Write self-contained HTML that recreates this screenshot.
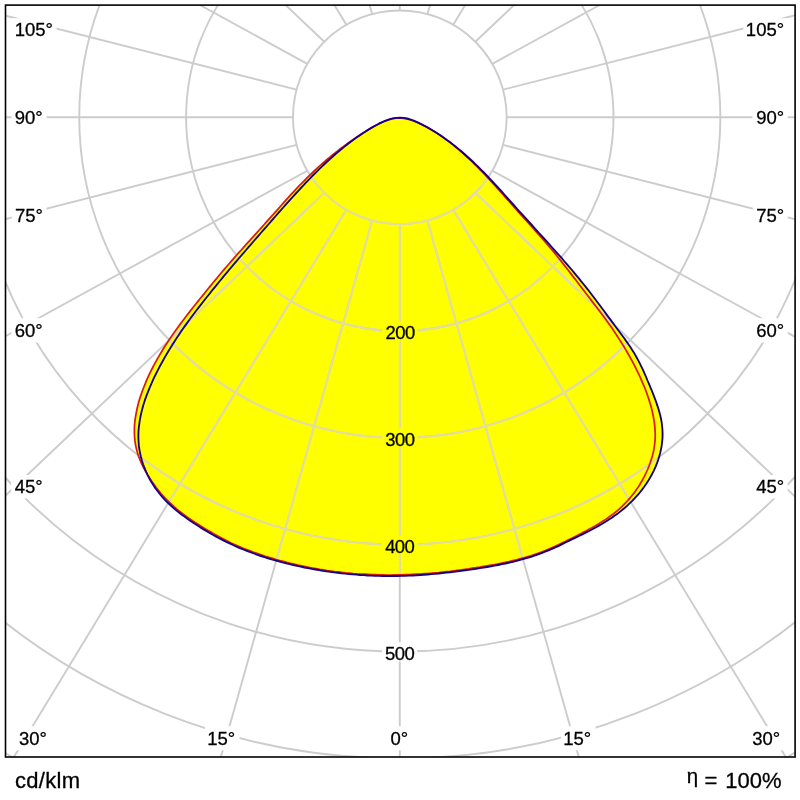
<!DOCTYPE html>
<html><head><meta charset="utf-8"><title>Polar</title>
<style>
html,body{margin:0;padding:0;background:#fff;}
body{width:800px;height:800px;overflow:hidden;font-family:"Liberation Sans",sans-serif;}
svg{display:block;position:absolute;left:0;top:0;}
text{font-family:"Liberation Sans",sans-serif;fill:#000;stroke:#000;stroke-width:0.3px;}
</style></head><body>
<svg width="800" height="800" viewBox="0 0 800 800">
<defs><filter id="gs" x="0" y="0" width="800" height="800" filterUnits="userSpaceOnUse" color-interpolation-filters="sRGB"><feColorMatrix type="saturate" values="0"/></filter><clipPath id="yl"><path d="M400.0,117.6 L396.4,117.8 L392.8,118.4 L389.2,119.4 L385.7,120.6 L382.2,122.1 L378.8,123.7 L375.4,125.5 L372.1,127.4 L368.8,129.4 L365.5,131.5 L362.4,133.5 L359.2,135.7 L356.2,137.8 L353.1,140.0 L350.1,142.3 L347.2,144.5 L344.2,146.9 L341.3,149.2 L338.5,151.6 L335.6,154.0 L332.8,156.5 L330.0,159.0 L327.3,161.5 L324.6,164.0 L321.8,166.6 L319.2,169.2 L316.5,171.8 L313.8,174.5 L311.2,177.2 L308.6,179.8 L306.0,182.5 L303.4,185.3 L300.9,188.0 L298.3,190.8 L295.8,193.5 L293.2,196.3 L290.7,199.1 L288.2,201.9 L285.7,204.7 L283.2,207.5 L280.7,210.4 L278.2,213.2 L275.7,216.0 L273.2,218.8 L270.8,221.7 L268.3,224.5 L265.8,227.3 L263.3,230.1 L260.8,233.0 L258.4,235.8 L255.9,238.6 L253.4,241.5 L251.0,244.3 L248.5,247.1 L246.1,250.0 L243.6,252.8 L241.2,255.6 L238.7,258.5 L236.3,261.4 L233.9,264.2 L231.4,267.1 L229.0,269.9 L226.6,272.8 L224.2,275.7 L221.8,278.6 L219.4,281.5 L217.1,284.4 L214.7,287.3 L212.3,290.2 L210.0,293.1 L207.7,296.0 L205.3,299.0 L203.0,301.9 L200.7,304.9 L198.4,307.9 L196.1,310.8 L193.9,313.8 L191.6,316.8 L189.4,319.8 L187.2,322.9 L185.0,325.9 L182.8,329.0 L180.7,332.1 L178.6,335.2 L176.5,338.3 L174.5,341.4 L172.5,344.6 L170.5,347.8 L168.5,351.0 L166.6,354.2 L164.7,357.4 L162.9,360.7 L161.1,364.0 L159.3,367.3 L157.6,370.7 L155.9,374.0 L154.2,377.4 L152.6,380.9 L151.1,384.3 L149.6,387.8 L148.2,391.3 L146.8,394.9 L145.5,398.4 L144.3,402.0 L143.2,405.6 L142.2,409.2 L141.3,412.8 L140.5,416.5 L139.8,420.1 L139.3,423.8 L138.8,427.5 L138.5,431.1 L138.4,434.8 L138.4,438.5 L138.6,442.2 L138.9,445.9 L139.4,449.6 L140.1,453.2 L140.9,456.9 L141.9,460.6 L143.1,464.2 L144.4,467.7 L145.9,471.3 L147.5,474.8 L149.2,478.2 L151.1,481.5 L153.1,484.8 L155.2,487.9 L157.5,491.0 L159.8,494.0 L162.2,496.8 L164.7,499.6 L167.3,502.3 L170.0,504.8 L172.7,507.3 L175.6,509.7 L178.4,512.1 L181.4,514.4 L184.4,516.6 L187.4,518.8 L190.5,520.9 L193.6,523.0 L196.7,525.0 L199.9,527.1 L203.1,529.1 L206.3,531.0 L209.6,532.9 L212.8,534.8 L216.1,536.6 L219.5,538.4 L222.8,540.1 L226.2,541.8 L229.6,543.4 L233.0,545.0 L236.4,546.6 L239.8,548.1 L243.3,549.5 L246.8,550.9 L250.3,552.2 L253.8,553.5 L257.3,554.8 L260.9,556.0 L264.4,557.2 L268.0,558.3 L271.6,559.4 L275.2,560.4 L278.8,561.4 L282.4,562.4 L286.0,563.3 L289.7,564.2 L293.3,565.1 L297.0,565.9 L300.7,566.7 L304.3,567.5 L308.0,568.2 L311.7,568.9 L315.4,569.5 L319.1,570.2 L322.8,570.8 L326.5,571.3 L330.2,571.9 L334.0,572.4 L337.7,572.8 L341.4,573.3 L345.2,573.7 L348.9,574.1 L352.6,574.4 L356.4,574.7 L360.1,575.0 L363.9,575.2 L367.6,575.5 L371.4,575.6 L375.1,575.8 L378.9,575.9 L382.6,576.0 L386.4,576.0 L390.1,576.0 L393.9,576.0 L397.6,576.0 L401.4,575.9 L405.1,575.8 L408.9,575.6 L412.6,575.5 L416.4,575.3 L420.1,575.0 L423.8,574.8 L427.6,574.5 L431.3,574.2 L435.1,573.9 L438.8,573.5 L442.5,573.1 L446.3,572.7 L450.0,572.3 L453.7,571.9 L457.4,571.4 L461.2,570.9 L464.9,570.4 L468.6,569.9 L472.3,569.4 L476.0,568.8 L479.8,568.2 L483.5,567.6 L487.2,567.0 L490.9,566.4 L494.6,565.7 L498.3,565.0 L501.9,564.2 L505.6,563.5 L509.3,562.7 L512.9,561.8 L516.6,560.9 L520.2,559.9 L523.8,558.9 L527.4,557.9 L531.0,556.8 L534.5,555.6 L538.1,554.4 L541.6,553.1 L545.1,551.7 L548.6,550.3 L552.0,548.9 L555.4,547.4 L558.8,545.8 L562.2,544.1 L565.5,542.5 L568.9,540.9 L572.3,539.2 L575.7,537.6 L579.0,536.0 L582.4,534.3 L585.8,532.6 L589.1,531.0 L592.4,529.2 L595.7,527.5 L599.0,525.6 L602.3,523.8 L605.5,521.8 L608.6,519.8 L611.8,517.8 L614.8,515.6 L617.9,513.4 L620.8,511.1 L623.7,508.7 L626.6,506.3 L629.3,503.7 L632.0,501.1 L634.6,498.4 L637.1,495.6 L639.6,492.8 L641.9,489.9 L644.2,486.8 L646.3,483.8 L648.4,480.6 L650.3,477.3 L652.1,474.0 L653.8,470.6 L655.4,467.2 L656.8,463.7 L658.1,460.1 L659.2,456.5 L660.2,452.9 L661.0,449.3 L661.7,445.6 L662.1,441.9 L662.5,438.2 L662.6,434.5 L662.5,430.7 L662.2,427.0 L661.8,423.3 L661.2,419.7 L660.4,416.0 L659.4,412.3 L658.4,408.7 L657.2,405.1 L656.0,401.5 L654.6,397.9 L653.3,394.4 L651.9,390.9 L650.4,387.4 L649.0,383.9 L647.5,380.5 L646.1,377.0 L644.6,373.6 L643.1,370.2 L641.5,366.8 L639.8,363.4 L638.1,360.1 L636.3,356.8 L634.5,353.6 L632.5,350.4 L630.5,347.3 L628.4,344.2 L626.2,341.1 L624.1,338.0 L621.8,335.0 L619.6,332.0 L617.3,329.0 L615.1,326.0 L612.8,322.9 L610.6,319.9 L608.3,316.9 L606.1,313.9 L603.9,310.8 L601.6,307.8 L599.4,304.8 L597.1,301.8 L594.9,298.8 L592.6,295.8 L590.3,292.8 L588.1,289.8 L585.7,286.9 L583.4,284.0 L581.0,281.1 L578.7,278.1 L576.3,275.3 L573.9,272.4 L571.5,269.5 L569.0,266.7 L566.6,263.8 L564.1,261.0 L561.7,258.2 L559.2,255.4 L556.7,252.6 L554.2,249.8 L551.7,247.0 L549.2,244.2 L546.7,241.4 L544.2,238.6 L541.7,235.8 L539.1,233.1 L536.6,230.3 L534.1,227.5 L531.6,224.7 L529.0,221.9 L526.5,219.2 L524.0,216.4 L521.5,213.6 L518.9,210.8 L516.4,208.0 L513.9,205.2 L511.4,202.4 L508.9,199.6 L506.4,196.8 L503.9,194.0 L501.4,191.2 L498.8,188.4 L496.3,185.6 L493.7,182.9 L491.2,180.1 L488.6,177.4 L486.0,174.7 L483.4,172.0 L480.7,169.4 L478.1,166.7 L475.4,164.1 L472.7,161.5 L470.0,159.0 L467.2,156.5 L464.4,154.0 L461.6,151.5 L458.7,149.1 L455.8,146.7 L452.9,144.4 L449.9,142.1 L446.9,139.9 L443.9,137.7 L440.8,135.6 L437.6,133.5 L434.4,131.5 L431.2,129.5 L427.9,127.6 L424.6,125.8 L421.2,124.1 L417.8,122.4 L414.3,120.9 L410.8,119.6 L407.2,118.5 L403.6,117.8 L400.0,117.6 Z"/><path d="M400.0,118.0 L396.4,118.1 L392.8,118.7 L389.3,119.6 L385.8,120.8 L382.3,122.2 L378.9,123.9 L375.5,125.7 L372.1,127.6 L368.8,129.5 L365.5,131.5 L362.3,133.5 L359.2,135.5 L356.0,137.6 L353.0,139.7 L349.9,141.8 L346.9,143.9 L343.9,146.1 L341.0,148.3 L338.0,150.6 L335.1,152.9 L332.2,155.2 L329.3,157.6 L326.5,160.0 L323.7,162.5 L320.9,164.9 L318.1,167.4 L315.3,170.0 L312.6,172.5 L309.9,175.1 L307.2,177.7 L304.6,180.4 L301.9,183.1 L299.3,185.7 L296.7,188.4 L294.2,191.2 L291.6,193.9 L289.1,196.7 L286.6,199.4 L284.1,202.2 L281.6,205.0 L279.1,207.8 L276.7,210.6 L274.2,213.4 L271.7,216.2 L269.2,218.9 L266.7,221.7 L264.2,224.5 L261.7,227.3 L259.2,230.0 L256.7,232.8 L254.2,235.6 L251.7,238.4 L249.2,241.1 L246.7,243.9 L244.2,246.7 L241.7,249.5 L239.2,252.2 L236.7,255.0 L234.2,257.8 L231.8,260.6 L229.3,263.5 L226.9,266.3 L224.4,269.1 L222.0,272.0 L219.6,274.8 L217.2,277.7 L214.8,280.6 L212.4,283.5 L210.1,286.4 L207.7,289.3 L205.3,292.2 L203.0,295.1 L200.6,298.0 L198.3,300.9 L196.0,303.8 L193.6,306.7 L191.3,309.6 L189.0,312.6 L186.7,315.5 L184.5,318.5 L182.2,321.5 L180.0,324.4 L177.8,327.4 L175.6,330.5 L173.5,333.5 L171.4,336.6 L169.3,339.6 L167.2,342.7 L165.2,345.8 L163.2,349.0 L161.3,352.2 L159.4,355.4 L157.5,358.6 L155.7,361.9 L153.9,365.2 L152.2,368.5 L150.5,371.8 L148.9,375.2 L147.3,378.7 L145.8,382.2 L144.4,385.7 L143.0,389.2 L141.7,392.8 L140.5,396.4 L139.3,400.0 L138.3,403.6 L137.4,407.3 L136.6,411.0 L135.9,414.7 L135.3,418.3 L134.8,422.0 L134.5,425.7 L134.4,429.4 L134.4,433.1 L134.6,436.7 L134.9,440.4 L135.4,444.0 L136.1,447.6 L137.0,451.1 L138.0,454.7 L139.3,458.2 L140.7,461.7 L142.3,465.1 L144.0,468.5 L145.9,471.8 L147.8,475.1 L149.8,478.3 L151.9,481.5 L154.1,484.6 L156.3,487.7 L158.6,490.6 L160.9,493.5 L163.4,496.3 L166.0,499.0 L168.6,501.6 L171.3,504.2 L174.0,506.7 L176.8,509.1 L179.7,511.4 L182.6,513.7 L185.6,515.9 L188.7,518.1 L191.7,520.2 L194.8,522.3 L198.0,524.3 L201.1,526.3 L204.3,528.3 L207.6,530.2 L210.8,532.1 L214.1,534.0 L217.3,535.8 L220.6,537.6 L223.9,539.3 L227.3,541.0 L230.6,542.7 L234.0,544.3 L237.4,545.8 L240.9,547.3 L244.3,548.7 L247.8,550.1 L251.2,551.4 L254.7,552.7 L258.3,553.9 L261.8,555.1 L265.3,556.3 L268.9,557.4 L272.5,558.4 L276.1,559.5 L279.7,560.5 L283.3,561.4 L286.9,562.4 L290.5,563.3 L294.2,564.1 L297.8,565.0 L301.5,565.8 L305.1,566.5 L308.8,567.3 L312.5,568.0 L316.1,568.6 L319.8,569.3 L323.5,569.9 L327.2,570.5 L330.9,571.0 L334.6,571.5 L338.3,571.9 L342.0,572.4 L345.8,572.8 L349.5,573.1 L353.2,573.5 L356.9,573.8 L360.7,574.0 L364.4,574.2 L368.1,574.4 L371.9,574.6 L375.6,574.7 L379.3,574.8 L383.1,574.9 L386.8,575.0 L390.5,575.0 L394.3,574.9 L398.0,574.9 L401.7,574.8 L405.5,574.7 L409.2,574.6 L412.9,574.4 L416.7,574.2 L420.4,574.0 L424.1,573.7 L427.8,573.5 L431.6,573.2 L435.3,572.8 L439.0,572.5 L442.7,572.1 L446.4,571.7 L450.1,571.3 L453.9,570.8 L457.6,570.3 L461.3,569.9 L465.0,569.3 L468.7,568.8 L472.4,568.2 L476.1,567.7 L479.8,567.1 L483.5,566.4 L487.1,565.8 L490.8,565.1 L494.5,564.5 L498.2,563.8 L501.9,563.0 L505.5,562.3 L509.2,561.5 L512.8,560.6 L516.5,559.8 L520.1,558.8 L523.7,557.9 L527.3,556.8 L530.8,555.8 L534.4,554.6 L537.9,553.4 L541.4,552.1 L544.9,550.7 L548.3,549.3 L551.7,547.8 L555.1,546.3 L558.5,544.7 L561.8,543.1 L565.2,541.5 L568.5,539.8 L571.9,538.2 L575.2,536.5 L578.6,534.8 L581.9,533.1 L585.2,531.4 L588.5,529.6 L591.8,527.8 L595.1,525.9 L598.3,524.0 L601.5,522.1 L604.6,520.1 L607.7,518.0 L610.7,515.8 L613.7,513.6 L616.6,511.3 L619.4,508.9 L622.1,506.4 L624.8,503.7 L627.3,501.0 L629.8,498.2 L632.2,495.3 L634.5,492.4 L636.7,489.3 L638.8,486.2 L640.7,483.0 L642.6,479.7 L644.4,476.4 L646.0,473.0 L647.6,469.5 L649.0,466.0 L650.3,462.5 L651.4,459.0 L652.5,455.4 L653.4,451.8 L654.1,448.1 L654.6,444.5 L655.0,440.8 L655.2,437.1 L655.2,433.4 L655.0,429.7 L654.7,425.9 L654.3,422.2 L653.7,418.5 L653.0,414.9 L652.2,411.2 L651.3,407.6 L650.3,404.0 L649.2,400.4 L648.0,396.8 L646.8,393.3 L645.5,389.8 L644.1,386.3 L642.6,382.9 L641.1,379.4 L639.6,376.0 L638.0,372.6 L636.4,369.3 L634.7,365.9 L633.0,362.6 L631.2,359.3 L629.4,356.1 L627.5,352.8 L625.7,349.6 L623.8,346.4 L621.8,343.2 L619.8,340.1 L617.8,336.9 L615.7,333.8 L613.7,330.7 L611.6,327.6 L609.4,324.6 L607.2,321.5 L605.1,318.5 L602.8,315.5 L600.6,312.5 L598.4,309.5 L596.1,306.5 L593.8,303.6 L591.5,300.6 L589.3,297.6 L587.0,294.7 L584.7,291.7 L582.4,288.8 L580.1,285.8 L577.9,282.8 L575.6,279.8 L573.3,276.9 L571.0,273.9 L568.8,271.0 L566.5,268.0 L564.2,265.1 L561.9,262.1 L559.6,259.2 L557.2,256.3 L554.9,253.4 L552.5,250.5 L550.1,247.7 L547.7,244.8 L545.2,242.0 L542.8,239.2 L540.3,236.4 L537.9,233.6 L535.4,230.8 L532.9,228.0 L530.4,225.2 L527.9,222.4 L525.4,219.7 L522.9,216.9 L520.4,214.1 L517.9,211.3 L515.4,208.5 L512.9,205.7 L510.5,202.9 L508.0,200.1 L505.5,197.3 L503.0,194.5 L500.5,191.7 L498.0,188.9 L495.5,186.1 L493.0,183.3 L490.5,180.6 L487.9,177.8 L485.4,175.1 L482.8,172.4 L480.2,169.8 L477.6,167.1 L474.9,164.5 L472.3,161.9 L469.6,159.3 L466.8,156.8 L464.1,154.3 L461.3,151.8 L458.5,149.4 L455.6,147.0 L452.7,144.6 L449.7,142.3 L446.7,140.1 L443.7,137.9 L440.6,135.7 L437.5,133.6 L434.3,131.6 L431.1,129.7 L427.8,127.8 L424.5,126.0 L421.1,124.3 L417.7,122.7 L414.2,121.2 L410.7,120.0 L407.1,119.0 L403.5,118.3 L400.0,118.0 Z"/></clipPath><clipPath id="fr"><rect x="5.5" y="5.1" width="789.6" height="751.9"/></clipPath></defs>
<rect width="800" height="800" fill="#fff"/>
<g clip-path="url(#fr)">
<path d="M400.0,117.6 L396.4,117.8 L392.8,118.4 L389.2,119.4 L385.7,120.6 L382.2,122.1 L378.8,123.7 L375.4,125.5 L372.1,127.4 L368.8,129.4 L365.5,131.5 L362.4,133.5 L359.2,135.7 L356.2,137.8 L353.1,140.0 L350.1,142.3 L347.2,144.5 L344.2,146.9 L341.3,149.2 L338.5,151.6 L335.6,154.0 L332.8,156.5 L330.0,159.0 L327.3,161.5 L324.6,164.0 L321.8,166.6 L319.2,169.2 L316.5,171.8 L313.8,174.5 L311.2,177.2 L308.6,179.8 L306.0,182.5 L303.4,185.3 L300.9,188.0 L298.3,190.8 L295.8,193.5 L293.2,196.3 L290.7,199.1 L288.2,201.9 L285.7,204.7 L283.2,207.5 L280.7,210.4 L278.2,213.2 L275.7,216.0 L273.2,218.8 L270.8,221.7 L268.3,224.5 L265.8,227.3 L263.3,230.1 L260.8,233.0 L258.4,235.8 L255.9,238.6 L253.4,241.5 L251.0,244.3 L248.5,247.1 L246.1,250.0 L243.6,252.8 L241.2,255.6 L238.7,258.5 L236.3,261.4 L233.9,264.2 L231.4,267.1 L229.0,269.9 L226.6,272.8 L224.2,275.7 L221.8,278.6 L219.4,281.5 L217.1,284.4 L214.7,287.3 L212.3,290.2 L210.0,293.1 L207.7,296.0 L205.3,299.0 L203.0,301.9 L200.7,304.9 L198.4,307.9 L196.1,310.8 L193.9,313.8 L191.6,316.8 L189.4,319.8 L187.2,322.9 L185.0,325.9 L182.8,329.0 L180.7,332.1 L178.6,335.2 L176.5,338.3 L174.5,341.4 L172.5,344.6 L170.5,347.8 L168.5,351.0 L166.6,354.2 L164.7,357.4 L162.9,360.7 L161.1,364.0 L159.3,367.3 L157.6,370.7 L155.9,374.0 L154.2,377.4 L152.6,380.9 L151.1,384.3 L149.6,387.8 L148.2,391.3 L146.8,394.9 L145.5,398.4 L144.3,402.0 L143.2,405.6 L142.2,409.2 L141.3,412.8 L140.5,416.5 L139.8,420.1 L139.3,423.8 L138.8,427.5 L138.5,431.1 L138.4,434.8 L138.4,438.5 L138.6,442.2 L138.9,445.9 L139.4,449.6 L140.1,453.2 L140.9,456.9 L141.9,460.6 L143.1,464.2 L144.4,467.7 L145.9,471.3 L147.5,474.8 L149.2,478.2 L151.1,481.5 L153.1,484.8 L155.2,487.9 L157.5,491.0 L159.8,494.0 L162.2,496.8 L164.7,499.6 L167.3,502.3 L170.0,504.8 L172.7,507.3 L175.6,509.7 L178.4,512.1 L181.4,514.4 L184.4,516.6 L187.4,518.8 L190.5,520.9 L193.6,523.0 L196.7,525.0 L199.9,527.1 L203.1,529.1 L206.3,531.0 L209.6,532.9 L212.8,534.8 L216.1,536.6 L219.5,538.4 L222.8,540.1 L226.2,541.8 L229.6,543.4 L233.0,545.0 L236.4,546.6 L239.8,548.1 L243.3,549.5 L246.8,550.9 L250.3,552.2 L253.8,553.5 L257.3,554.8 L260.9,556.0 L264.4,557.2 L268.0,558.3 L271.6,559.4 L275.2,560.4 L278.8,561.4 L282.4,562.4 L286.0,563.3 L289.7,564.2 L293.3,565.1 L297.0,565.9 L300.7,566.7 L304.3,567.5 L308.0,568.2 L311.7,568.9 L315.4,569.5 L319.1,570.2 L322.8,570.8 L326.5,571.3 L330.2,571.9 L334.0,572.4 L337.7,572.8 L341.4,573.3 L345.2,573.7 L348.9,574.1 L352.6,574.4 L356.4,574.7 L360.1,575.0 L363.9,575.2 L367.6,575.5 L371.4,575.6 L375.1,575.8 L378.9,575.9 L382.6,576.0 L386.4,576.0 L390.1,576.0 L393.9,576.0 L397.6,576.0 L401.4,575.9 L405.1,575.8 L408.9,575.6 L412.6,575.5 L416.4,575.3 L420.1,575.0 L423.8,574.8 L427.6,574.5 L431.3,574.2 L435.1,573.9 L438.8,573.5 L442.5,573.1 L446.3,572.7 L450.0,572.3 L453.7,571.9 L457.4,571.4 L461.2,570.9 L464.9,570.4 L468.6,569.9 L472.3,569.4 L476.0,568.8 L479.8,568.2 L483.5,567.6 L487.2,567.0 L490.9,566.4 L494.6,565.7 L498.3,565.0 L501.9,564.2 L505.6,563.5 L509.3,562.7 L512.9,561.8 L516.6,560.9 L520.2,559.9 L523.8,558.9 L527.4,557.9 L531.0,556.8 L534.5,555.6 L538.1,554.4 L541.6,553.1 L545.1,551.7 L548.6,550.3 L552.0,548.9 L555.4,547.4 L558.8,545.8 L562.2,544.1 L565.5,542.5 L568.9,540.9 L572.3,539.2 L575.7,537.6 L579.0,536.0 L582.4,534.3 L585.8,532.6 L589.1,531.0 L592.4,529.2 L595.7,527.5 L599.0,525.6 L602.3,523.8 L605.5,521.8 L608.6,519.8 L611.8,517.8 L614.8,515.6 L617.9,513.4 L620.8,511.1 L623.7,508.7 L626.6,506.3 L629.3,503.7 L632.0,501.1 L634.6,498.4 L637.1,495.6 L639.6,492.8 L641.9,489.9 L644.2,486.8 L646.3,483.8 L648.4,480.6 L650.3,477.3 L652.1,474.0 L653.8,470.6 L655.4,467.2 L656.8,463.7 L658.1,460.1 L659.2,456.5 L660.2,452.9 L661.0,449.3 L661.7,445.6 L662.1,441.9 L662.5,438.2 L662.6,434.5 L662.5,430.7 L662.2,427.0 L661.8,423.3 L661.2,419.7 L660.4,416.0 L659.4,412.3 L658.4,408.7 L657.2,405.1 L656.0,401.5 L654.6,397.9 L653.3,394.4 L651.9,390.9 L650.4,387.4 L649.0,383.9 L647.5,380.5 L646.1,377.0 L644.6,373.6 L643.1,370.2 L641.5,366.8 L639.8,363.4 L638.1,360.1 L636.3,356.8 L634.5,353.6 L632.5,350.4 L630.5,347.3 L628.4,344.2 L626.2,341.1 L624.1,338.0 L621.8,335.0 L619.6,332.0 L617.3,329.0 L615.1,326.0 L612.8,322.9 L610.6,319.9 L608.3,316.9 L606.1,313.9 L603.9,310.8 L601.6,307.8 L599.4,304.8 L597.1,301.8 L594.9,298.8 L592.6,295.8 L590.3,292.8 L588.1,289.8 L585.7,286.9 L583.4,284.0 L581.0,281.1 L578.7,278.1 L576.3,275.3 L573.9,272.4 L571.5,269.5 L569.0,266.7 L566.6,263.8 L564.1,261.0 L561.7,258.2 L559.2,255.4 L556.7,252.6 L554.2,249.8 L551.7,247.0 L549.2,244.2 L546.7,241.4 L544.2,238.6 L541.7,235.8 L539.1,233.1 L536.6,230.3 L534.1,227.5 L531.6,224.7 L529.0,221.9 L526.5,219.2 L524.0,216.4 L521.5,213.6 L518.9,210.8 L516.4,208.0 L513.9,205.2 L511.4,202.4 L508.9,199.6 L506.4,196.8 L503.9,194.0 L501.4,191.2 L498.8,188.4 L496.3,185.6 L493.7,182.9 L491.2,180.1 L488.6,177.4 L486.0,174.7 L483.4,172.0 L480.7,169.4 L478.1,166.7 L475.4,164.1 L472.7,161.5 L470.0,159.0 L467.2,156.5 L464.4,154.0 L461.6,151.5 L458.7,149.1 L455.8,146.7 L452.9,144.4 L449.9,142.1 L446.9,139.9 L443.9,137.7 L440.8,135.6 L437.6,133.5 L434.4,131.5 L431.2,129.5 L427.9,127.6 L424.6,125.8 L421.2,124.1 L417.8,122.4 L414.3,120.9 L410.8,119.6 L407.2,118.5 L403.6,117.8 L400.0,117.6 Z" fill="#ffff00"/>
<path d="M400.0,118.0 L396.4,118.1 L392.8,118.7 L389.3,119.6 L385.8,120.8 L382.3,122.2 L378.9,123.9 L375.5,125.7 L372.1,127.6 L368.8,129.5 L365.5,131.5 L362.3,133.5 L359.2,135.5 L356.0,137.6 L353.0,139.7 L349.9,141.8 L346.9,143.9 L343.9,146.1 L341.0,148.3 L338.0,150.6 L335.1,152.9 L332.2,155.2 L329.3,157.6 L326.5,160.0 L323.7,162.5 L320.9,164.9 L318.1,167.4 L315.3,170.0 L312.6,172.5 L309.9,175.1 L307.2,177.7 L304.6,180.4 L301.9,183.1 L299.3,185.7 L296.7,188.4 L294.2,191.2 L291.6,193.9 L289.1,196.7 L286.6,199.4 L284.1,202.2 L281.6,205.0 L279.1,207.8 L276.7,210.6 L274.2,213.4 L271.7,216.2 L269.2,218.9 L266.7,221.7 L264.2,224.5 L261.7,227.3 L259.2,230.0 L256.7,232.8 L254.2,235.6 L251.7,238.4 L249.2,241.1 L246.7,243.9 L244.2,246.7 L241.7,249.5 L239.2,252.2 L236.7,255.0 L234.2,257.8 L231.8,260.6 L229.3,263.5 L226.9,266.3 L224.4,269.1 L222.0,272.0 L219.6,274.8 L217.2,277.7 L214.8,280.6 L212.4,283.5 L210.1,286.4 L207.7,289.3 L205.3,292.2 L203.0,295.1 L200.6,298.0 L198.3,300.9 L196.0,303.8 L193.6,306.7 L191.3,309.6 L189.0,312.6 L186.7,315.5 L184.5,318.5 L182.2,321.5 L180.0,324.4 L177.8,327.4 L175.6,330.5 L173.5,333.5 L171.4,336.6 L169.3,339.6 L167.2,342.7 L165.2,345.8 L163.2,349.0 L161.3,352.2 L159.4,355.4 L157.5,358.6 L155.7,361.9 L153.9,365.2 L152.2,368.5 L150.5,371.8 L148.9,375.2 L147.3,378.7 L145.8,382.2 L144.4,385.7 L143.0,389.2 L141.7,392.8 L140.5,396.4 L139.3,400.0 L138.3,403.6 L137.4,407.3 L136.6,411.0 L135.9,414.7 L135.3,418.3 L134.8,422.0 L134.5,425.7 L134.4,429.4 L134.4,433.1 L134.6,436.7 L134.9,440.4 L135.4,444.0 L136.1,447.6 L137.0,451.1 L138.0,454.7 L139.3,458.2 L140.7,461.7 L142.3,465.1 L144.0,468.5 L145.9,471.8 L147.8,475.1 L149.8,478.3 L151.9,481.5 L154.1,484.6 L156.3,487.7 L158.6,490.6 L160.9,493.5 L163.4,496.3 L166.0,499.0 L168.6,501.6 L171.3,504.2 L174.0,506.7 L176.8,509.1 L179.7,511.4 L182.6,513.7 L185.6,515.9 L188.7,518.1 L191.7,520.2 L194.8,522.3 L198.0,524.3 L201.1,526.3 L204.3,528.3 L207.6,530.2 L210.8,532.1 L214.1,534.0 L217.3,535.8 L220.6,537.6 L223.9,539.3 L227.3,541.0 L230.6,542.7 L234.0,544.3 L237.4,545.8 L240.9,547.3 L244.3,548.7 L247.8,550.1 L251.2,551.4 L254.7,552.7 L258.3,553.9 L261.8,555.1 L265.3,556.3 L268.9,557.4 L272.5,558.4 L276.1,559.5 L279.7,560.5 L283.3,561.4 L286.9,562.4 L290.5,563.3 L294.2,564.1 L297.8,565.0 L301.5,565.8 L305.1,566.5 L308.8,567.3 L312.5,568.0 L316.1,568.6 L319.8,569.3 L323.5,569.9 L327.2,570.5 L330.9,571.0 L334.6,571.5 L338.3,571.9 L342.0,572.4 L345.8,572.8 L349.5,573.1 L353.2,573.5 L356.9,573.8 L360.7,574.0 L364.4,574.2 L368.1,574.4 L371.9,574.6 L375.6,574.7 L379.3,574.8 L383.1,574.9 L386.8,575.0 L390.5,575.0 L394.3,574.9 L398.0,574.9 L401.7,574.8 L405.5,574.7 L409.2,574.6 L412.9,574.4 L416.7,574.2 L420.4,574.0 L424.1,573.7 L427.8,573.5 L431.6,573.2 L435.3,572.8 L439.0,572.5 L442.7,572.1 L446.4,571.7 L450.1,571.3 L453.9,570.8 L457.6,570.3 L461.3,569.9 L465.0,569.3 L468.7,568.8 L472.4,568.2 L476.1,567.7 L479.8,567.1 L483.5,566.4 L487.1,565.8 L490.8,565.1 L494.5,564.5 L498.2,563.8 L501.9,563.0 L505.5,562.3 L509.2,561.5 L512.8,560.6 L516.5,559.8 L520.1,558.8 L523.7,557.9 L527.3,556.8 L530.8,555.8 L534.4,554.6 L537.9,553.4 L541.4,552.1 L544.9,550.7 L548.3,549.3 L551.7,547.8 L555.1,546.3 L558.5,544.7 L561.8,543.1 L565.2,541.5 L568.5,539.8 L571.9,538.2 L575.2,536.5 L578.6,534.8 L581.9,533.1 L585.2,531.4 L588.5,529.6 L591.8,527.8 L595.1,525.9 L598.3,524.0 L601.5,522.1 L604.6,520.1 L607.7,518.0 L610.7,515.8 L613.7,513.6 L616.6,511.3 L619.4,508.9 L622.1,506.4 L624.8,503.7 L627.3,501.0 L629.8,498.2 L632.2,495.3 L634.5,492.4 L636.7,489.3 L638.8,486.2 L640.7,483.0 L642.6,479.7 L644.4,476.4 L646.0,473.0 L647.6,469.5 L649.0,466.0 L650.3,462.5 L651.4,459.0 L652.5,455.4 L653.4,451.8 L654.1,448.1 L654.6,444.5 L655.0,440.8 L655.2,437.1 L655.2,433.4 L655.0,429.7 L654.7,425.9 L654.3,422.2 L653.7,418.5 L653.0,414.9 L652.2,411.2 L651.3,407.6 L650.3,404.0 L649.2,400.4 L648.0,396.8 L646.8,393.3 L645.5,389.8 L644.1,386.3 L642.6,382.9 L641.1,379.4 L639.6,376.0 L638.0,372.6 L636.4,369.3 L634.7,365.9 L633.0,362.6 L631.2,359.3 L629.4,356.1 L627.5,352.8 L625.7,349.6 L623.8,346.4 L621.8,343.2 L619.8,340.1 L617.8,336.9 L615.7,333.8 L613.7,330.7 L611.6,327.6 L609.4,324.6 L607.2,321.5 L605.1,318.5 L602.8,315.5 L600.6,312.5 L598.4,309.5 L596.1,306.5 L593.8,303.6 L591.5,300.6 L589.3,297.6 L587.0,294.7 L584.7,291.7 L582.4,288.8 L580.1,285.8 L577.9,282.8 L575.6,279.8 L573.3,276.9 L571.0,273.9 L568.8,271.0 L566.5,268.0 L564.2,265.1 L561.9,262.1 L559.6,259.2 L557.2,256.3 L554.9,253.4 L552.5,250.5 L550.1,247.7 L547.7,244.8 L545.2,242.0 L542.8,239.2 L540.3,236.4 L537.9,233.6 L535.4,230.8 L532.9,228.0 L530.4,225.2 L527.9,222.4 L525.4,219.7 L522.9,216.9 L520.4,214.1 L517.9,211.3 L515.4,208.5 L512.9,205.7 L510.5,202.9 L508.0,200.1 L505.5,197.3 L503.0,194.5 L500.5,191.7 L498.0,188.9 L495.5,186.1 L493.0,183.3 L490.5,180.6 L487.9,177.8 L485.4,175.1 L482.8,172.4 L480.2,169.8 L477.6,167.1 L474.9,164.5 L472.3,161.9 L469.6,159.3 L466.8,156.8 L464.1,154.3 L461.3,151.8 L458.5,149.4 L455.6,147.0 L452.7,144.6 L449.7,142.3 L446.7,140.1 L443.7,137.9 L440.6,135.7 L437.5,133.6 L434.3,131.6 L431.1,129.7 L427.8,127.8 L424.5,126.0 L421.1,124.3 L417.7,122.7 L414.2,121.2 L410.7,120.0 L407.1,119.0 L403.5,118.3 L400.0,118.0 Z" fill="#ffff00"/>
<g fill="none" stroke="#cccccc" stroke-width="1.9"><circle cx="399.8" cy="117.3" r="106.85"/><circle cx="399.8" cy="117.3" r="213.70"/><circle cx="399.8" cy="117.3" r="320.55"/><circle cx="399.8" cy="117.3" r="427.40"/><circle cx="399.8" cy="117.3" r="534.25"/><circle cx="399.8" cy="117.3" r="641.10"/><circle cx="399.8" cy="117.3" r="747.95"/><line x1="399.80" y1="224.15" x2="399.80" y2="1324.15"/><line x1="427.45" y1="220.51" x2="726.03" y2="1279.21"/><line x1="453.23" y1="209.83" x2="1024.46" y2="1149.88"/><line x1="475.35" y1="192.85" x2="1272.81" y2="950.53"/><line x1="492.33" y1="170.73" x2="1456.76" y2="699.76"/><line x1="503.01" y1="144.95" x2="1569.01" y2="416.34"/><line x1="506.65" y1="117.30" x2="1606.65" y2="117.30"/><line x1="503.01" y1="89.65" x2="1569.01" y2="-181.74"/><line x1="492.33" y1="63.88" x2="1456.76" y2="-465.16"/><line x1="475.35" y1="41.75" x2="1272.81" y2="-715.93"/><line x1="453.23" y1="24.77" x2="1024.46" y2="-915.28"/><line x1="427.45" y1="14.09" x2="726.03" y2="-1044.61"/><line x1="399.80" y1="10.45" x2="399.80" y2="-1089.55"/><line x1="372.15" y1="14.09" x2="73.57" y2="-1044.61"/><line x1="346.38" y1="24.77" x2="-224.86" y2="-915.28"/><line x1="324.25" y1="41.75" x2="-473.21" y2="-715.93"/><line x1="307.27" y1="63.87" x2="-657.16" y2="-465.16"/><line x1="296.59" y1="89.65" x2="-769.41" y2="-181.74"/><line x1="292.95" y1="117.30" x2="-807.05" y2="117.30"/><line x1="296.59" y1="144.95" x2="-769.41" y2="416.34"/><line x1="307.27" y1="170.73" x2="-657.16" y2="699.76"/><line x1="324.25" y1="192.85" x2="-473.21" y2="950.53"/><line x1="346.37" y1="209.83" x2="-224.86" y2="1149.88"/><line x1="372.15" y1="220.51" x2="73.57" y2="1279.21"/></g>
<g fill="none" stroke="#e4df9c" stroke-width="1.7" clip-path="url(#yl)"><circle cx="399.8" cy="117.3" r="106.85"/><circle cx="399.8" cy="117.3" r="213.70"/><circle cx="399.8" cy="117.3" r="320.55"/><circle cx="399.8" cy="117.3" r="427.40"/><circle cx="399.8" cy="117.3" r="534.25"/><circle cx="399.8" cy="117.3" r="641.10"/><circle cx="399.8" cy="117.3" r="747.95"/><line x1="399.80" y1="224.15" x2="399.80" y2="1324.15"/><line x1="427.45" y1="220.51" x2="726.03" y2="1279.21"/><line x1="453.23" y1="209.83" x2="1024.46" y2="1149.88"/><line x1="475.35" y1="192.85" x2="1272.81" y2="950.53"/><line x1="492.33" y1="170.73" x2="1456.76" y2="699.76"/><line x1="503.01" y1="144.95" x2="1569.01" y2="416.34"/><line x1="506.65" y1="117.30" x2="1606.65" y2="117.30"/><line x1="503.01" y1="89.65" x2="1569.01" y2="-181.74"/><line x1="492.33" y1="63.88" x2="1456.76" y2="-465.16"/><line x1="475.35" y1="41.75" x2="1272.81" y2="-715.93"/><line x1="453.23" y1="24.77" x2="1024.46" y2="-915.28"/><line x1="427.45" y1="14.09" x2="726.03" y2="-1044.61"/><line x1="399.80" y1="10.45" x2="399.80" y2="-1089.55"/><line x1="372.15" y1="14.09" x2="73.57" y2="-1044.61"/><line x1="346.38" y1="24.77" x2="-224.86" y2="-915.28"/><line x1="324.25" y1="41.75" x2="-473.21" y2="-715.93"/><line x1="307.27" y1="63.87" x2="-657.16" y2="-465.16"/><line x1="296.59" y1="89.65" x2="-769.41" y2="-181.74"/><line x1="292.95" y1="117.30" x2="-807.05" y2="117.30"/><line x1="296.59" y1="144.95" x2="-769.41" y2="416.34"/><line x1="307.27" y1="170.73" x2="-657.16" y2="699.76"/><line x1="324.25" y1="192.85" x2="-473.21" y2="950.53"/><line x1="346.37" y1="209.83" x2="-224.86" y2="1149.88"/><line x1="372.15" y1="220.51" x2="73.57" y2="1279.21"/></g>
<rect x="12.5" y="18.2" width="44.0" height="23.8" fill="#fff"/><rect x="11.5" y="105.2" width="35.0" height="24.1" fill="#fff"/><rect x="11.8" y="204.2" width="34.7" height="23.8" fill="#fff"/><rect x="11.5" y="318.2" width="35.0" height="24.4" fill="#fff"/><rect x="11.2" y="475.0" width="35.3" height="23.6" fill="#fff"/><rect x="15.8" y="726.2" width="35.5" height="24.1" fill="#fff"/><rect x="205.0" y="726.2" width="34.5" height="24.1" fill="#fff"/><rect x="387.2" y="726.2" width="25.3" height="24.1" fill="#fff"/><rect x="561.0" y="726.2" width="34.5" height="24.1" fill="#fff"/><rect x="748.2" y="726.2" width="35.5" height="24.1" fill="#fff"/><rect x="743.5" y="18.2" width="44.2" height="23.8" fill="#fff"/><rect x="752.5" y="105.2" width="35.2" height="24.1" fill="#fff"/><rect x="752.8" y="204.2" width="34.9" height="23.8" fill="#fff"/><rect x="752.5" y="318.2" width="35.2" height="24.4" fill="#fff"/><rect x="752.2" y="475.0" width="35.5" height="23.6" fill="#fff"/><rect x="382.2" y="321.8" width="35.0" height="19.2" fill="#ffff00"/><rect x="382.2" y="428.6" width="35.0" height="19.2" fill="#ffff00"/><rect x="381.8" y="535.5" width="35.4" height="19.2" fill="#ffff00"/><rect x="382.0" y="642.3" width="35.2" height="19.2" fill="#fff"/><g font-size="18.5" filter="url(#gs)"><text x="14.69" y="36.20">105°</text><text x="14.76" y="123.50">90°</text><text x="14.97" y="222.20">75°</text><text x="14.76" y="336.80">60°</text><text x="14.74" y="492.80">45°</text><text x="19.06" y="744.50">30°</text><text x="207.19" y="744.50">15°</text><text x="390.46" y="744.50">0°</text><text x="563.19" y="744.50">15°</text><text x="780.12" y="744.50" text-anchor="end">30°</text><text x="784.12" y="36.20" text-anchor="end">105°</text><text x="784.12" y="123.50" text-anchor="end">90°</text><text x="784.12" y="222.20" text-anchor="end">75°</text><text x="784.12" y="336.80" text-anchor="end">60°</text><text x="784.12" y="492.80" text-anchor="end">45°</text><text x="385.44" y="339.00" letter-spacing="-0.55">200</text><text x="385.26" y="445.80" letter-spacing="-0.55">300</text><text x="385.14" y="552.70" letter-spacing="-0.55">400</text><text x="385.06" y="659.50" letter-spacing="-0.55">500</text></g>
<path d="M400.0,118.0 L396.4,118.1 L392.8,118.7 L389.3,119.6 L385.8,120.8 L382.3,122.2 L378.9,123.9 L375.5,125.7 L372.1,127.6 L368.8,129.5 L365.5,131.5 L362.3,133.5 L359.2,135.5 L356.0,137.6 L353.0,139.7 L349.9,141.8 L346.9,143.9 L343.9,146.1 L341.0,148.3 L338.0,150.6 L335.1,152.9 L332.2,155.2 L329.3,157.6 L326.5,160.0 L323.7,162.5 L320.9,164.9 L318.1,167.4 L315.3,170.0 L312.6,172.5 L309.9,175.1 L307.2,177.7 L304.6,180.4 L301.9,183.1 L299.3,185.7 L296.7,188.4 L294.2,191.2 L291.6,193.9 L289.1,196.7 L286.6,199.4 L284.1,202.2 L281.6,205.0 L279.1,207.8 L276.7,210.6 L274.2,213.4 L271.7,216.2 L269.2,218.9 L266.7,221.7 L264.2,224.5 L261.7,227.3 L259.2,230.0 L256.7,232.8 L254.2,235.6 L251.7,238.4 L249.2,241.1 L246.7,243.9 L244.2,246.7 L241.7,249.5 L239.2,252.2 L236.7,255.0 L234.2,257.8 L231.8,260.6 L229.3,263.5 L226.9,266.3 L224.4,269.1 L222.0,272.0 L219.6,274.8 L217.2,277.7 L214.8,280.6 L212.4,283.5 L210.1,286.4 L207.7,289.3 L205.3,292.2 L203.0,295.1 L200.6,298.0 L198.3,300.9 L196.0,303.8 L193.6,306.7 L191.3,309.6 L189.0,312.6 L186.7,315.5 L184.5,318.5 L182.2,321.5 L180.0,324.4 L177.8,327.4 L175.6,330.5 L173.5,333.5 L171.4,336.6 L169.3,339.6 L167.2,342.7 L165.2,345.8 L163.2,349.0 L161.3,352.2 L159.4,355.4 L157.5,358.6 L155.7,361.9 L153.9,365.2 L152.2,368.5 L150.5,371.8 L148.9,375.2 L147.3,378.7 L145.8,382.2 L144.4,385.7 L143.0,389.2 L141.7,392.8 L140.5,396.4 L139.3,400.0 L138.3,403.6 L137.4,407.3 L136.6,411.0 L135.9,414.7 L135.3,418.3 L134.8,422.0 L134.5,425.7 L134.4,429.4 L134.4,433.1 L134.6,436.7 L134.9,440.4 L135.4,444.0 L136.1,447.6 L137.0,451.1 L138.0,454.7 L139.3,458.2 L140.7,461.7 L142.3,465.1 L144.0,468.5 L145.9,471.8 L147.8,475.1 L149.8,478.3 L151.9,481.5 L154.1,484.6 L156.3,487.7 L158.6,490.6 L160.9,493.5 L163.4,496.3 L166.0,499.0 L168.6,501.6 L171.3,504.2 L174.0,506.7 L176.8,509.1 L179.7,511.4 L182.6,513.7 L185.6,515.9 L188.7,518.1 L191.7,520.2 L194.8,522.3 L198.0,524.3 L201.1,526.3 L204.3,528.3 L207.6,530.2 L210.8,532.1 L214.1,534.0 L217.3,535.8 L220.6,537.6 L223.9,539.3 L227.3,541.0 L230.6,542.7 L234.0,544.3 L237.4,545.8 L240.9,547.3 L244.3,548.7 L247.8,550.1 L251.2,551.4 L254.7,552.7 L258.3,553.9 L261.8,555.1 L265.3,556.3 L268.9,557.4 L272.5,558.4 L276.1,559.5 L279.7,560.5 L283.3,561.4 L286.9,562.4 L290.5,563.3 L294.2,564.1 L297.8,565.0 L301.5,565.8 L305.1,566.5 L308.8,567.3 L312.5,568.0 L316.1,568.6 L319.8,569.3 L323.5,569.9 L327.2,570.5 L330.9,571.0 L334.6,571.5 L338.3,571.9 L342.0,572.4 L345.8,572.8 L349.5,573.1 L353.2,573.5 L356.9,573.8 L360.7,574.0 L364.4,574.2 L368.1,574.4 L371.9,574.6 L375.6,574.7 L379.3,574.8 L383.1,574.9 L386.8,575.0 L390.5,575.0 L394.3,574.9 L398.0,574.9 L401.7,574.8 L405.5,574.7 L409.2,574.6 L412.9,574.4 L416.7,574.2 L420.4,574.0 L424.1,573.7 L427.8,573.5 L431.6,573.2 L435.3,572.8 L439.0,572.5 L442.7,572.1 L446.4,571.7 L450.1,571.3 L453.9,570.8 L457.6,570.3 L461.3,569.9 L465.0,569.3 L468.7,568.8 L472.4,568.2 L476.1,567.7 L479.8,567.1 L483.5,566.4 L487.1,565.8 L490.8,565.1 L494.5,564.5 L498.2,563.8 L501.9,563.0 L505.5,562.3 L509.2,561.5 L512.8,560.6 L516.5,559.8 L520.1,558.8 L523.7,557.9 L527.3,556.8 L530.8,555.8 L534.4,554.6 L537.9,553.4 L541.4,552.1 L544.9,550.7 L548.3,549.3 L551.7,547.8 L555.1,546.3 L558.5,544.7 L561.8,543.1 L565.2,541.5 L568.5,539.8 L571.9,538.2 L575.2,536.5 L578.6,534.8 L581.9,533.1 L585.2,531.4 L588.5,529.6 L591.8,527.8 L595.1,525.9 L598.3,524.0 L601.5,522.1 L604.6,520.1 L607.7,518.0 L610.7,515.8 L613.7,513.6 L616.6,511.3 L619.4,508.9 L622.1,506.4 L624.8,503.7 L627.3,501.0 L629.8,498.2 L632.2,495.3 L634.5,492.4 L636.7,489.3 L638.8,486.2 L640.7,483.0 L642.6,479.7 L644.4,476.4 L646.0,473.0 L647.6,469.5 L649.0,466.0 L650.3,462.5 L651.4,459.0 L652.5,455.4 L653.4,451.8 L654.1,448.1 L654.6,444.5 L655.0,440.8 L655.2,437.1 L655.2,433.4 L655.0,429.7 L654.7,425.9 L654.3,422.2 L653.7,418.5 L653.0,414.9 L652.2,411.2 L651.3,407.6 L650.3,404.0 L649.2,400.4 L648.0,396.8 L646.8,393.3 L645.5,389.8 L644.1,386.3 L642.6,382.9 L641.1,379.4 L639.6,376.0 L638.0,372.6 L636.4,369.3 L634.7,365.9 L633.0,362.6 L631.2,359.3 L629.4,356.1 L627.5,352.8 L625.7,349.6 L623.8,346.4 L621.8,343.2 L619.8,340.1 L617.8,336.9 L615.7,333.8 L613.7,330.7 L611.6,327.6 L609.4,324.6 L607.2,321.5 L605.1,318.5 L602.8,315.5 L600.6,312.5 L598.4,309.5 L596.1,306.5 L593.8,303.6 L591.5,300.6 L589.3,297.6 L587.0,294.7 L584.7,291.7 L582.4,288.8 L580.1,285.8 L577.9,282.8 L575.6,279.8 L573.3,276.9 L571.0,273.9 L568.8,271.0 L566.5,268.0 L564.2,265.1 L561.9,262.1 L559.6,259.2 L557.2,256.3 L554.9,253.4 L552.5,250.5 L550.1,247.7 L547.7,244.8 L545.2,242.0 L542.8,239.2 L540.3,236.4 L537.9,233.6 L535.4,230.8 L532.9,228.0 L530.4,225.2 L527.9,222.4 L525.4,219.7 L522.9,216.9 L520.4,214.1 L517.9,211.3 L515.4,208.5 L512.9,205.7 L510.5,202.9 L508.0,200.1 L505.5,197.3 L503.0,194.5 L500.5,191.7 L498.0,188.9 L495.5,186.1 L493.0,183.3 L490.5,180.6 L487.9,177.8 L485.4,175.1 L482.8,172.4 L480.2,169.8 L477.6,167.1 L474.9,164.5 L472.3,161.9 L469.6,159.3 L466.8,156.8 L464.1,154.3 L461.3,151.8 L458.5,149.4 L455.6,147.0 L452.7,144.6 L449.7,142.3 L446.7,140.1 L443.7,137.9 L440.6,135.7 L437.5,133.6 L434.3,131.6 L431.1,129.7 L427.8,127.8 L424.5,126.0 L421.1,124.3 L417.7,122.7 L414.2,121.2 L410.7,120.0 L407.1,119.0 L403.5,118.3 L400.0,118.0 Z" fill="none" stroke="#d81c10" stroke-width="1.75" stroke-linejoin="round"/>
<path d="M400.0,117.6 L396.4,117.8 L392.8,118.4 L389.2,119.4 L385.7,120.6 L382.2,122.1 L378.8,123.7 L375.4,125.5 L372.1,127.4 L368.8,129.4 L365.5,131.5 L362.4,133.5 L359.2,135.7 L356.2,137.8 L353.1,140.0 L350.1,142.3 L347.2,144.5 L344.2,146.9 L341.3,149.2 L338.5,151.6 L335.6,154.0 L332.8,156.5 L330.0,159.0 L327.3,161.5 L324.6,164.0 L321.8,166.6 L319.2,169.2 L316.5,171.8 L313.8,174.5 L311.2,177.2 L308.6,179.8 L306.0,182.5 L303.4,185.3 L300.9,188.0 L298.3,190.8 L295.8,193.5 L293.2,196.3 L290.7,199.1 L288.2,201.9 L285.7,204.7 L283.2,207.5 L280.7,210.4 L278.2,213.2 L275.7,216.0 L273.2,218.8 L270.8,221.7 L268.3,224.5 L265.8,227.3 L263.3,230.1 L260.8,233.0 L258.4,235.8 L255.9,238.6 L253.4,241.5 L251.0,244.3 L248.5,247.1 L246.1,250.0 L243.6,252.8 L241.2,255.6 L238.7,258.5 L236.3,261.4 L233.9,264.2 L231.4,267.1 L229.0,269.9 L226.6,272.8 L224.2,275.7 L221.8,278.6 L219.4,281.5 L217.1,284.4 L214.7,287.3 L212.3,290.2 L210.0,293.1 L207.7,296.0 L205.3,299.0 L203.0,301.9 L200.7,304.9 L198.4,307.9 L196.1,310.8 L193.9,313.8 L191.6,316.8 L189.4,319.8 L187.2,322.9 L185.0,325.9 L182.8,329.0 L180.7,332.1 L178.6,335.2 L176.5,338.3 L174.5,341.4 L172.5,344.6 L170.5,347.8 L168.5,351.0 L166.6,354.2 L164.7,357.4 L162.9,360.7 L161.1,364.0 L159.3,367.3 L157.6,370.7 L155.9,374.0 L154.2,377.4 L152.6,380.9 L151.1,384.3 L149.6,387.8 L148.2,391.3 L146.8,394.9 L145.5,398.4 L144.3,402.0 L143.2,405.6 L142.2,409.2 L141.3,412.8 L140.5,416.5 L139.8,420.1 L139.3,423.8 L138.8,427.5 L138.5,431.1 L138.4,434.8 L138.4,438.5 L138.6,442.2 L138.9,445.9 L139.4,449.6 L140.1,453.2 L140.9,456.9 L141.9,460.6 L143.1,464.2 L144.4,467.7 L145.9,471.3 L147.5,474.8 L149.2,478.2 L151.1,481.5 L153.1,484.8 L155.2,487.9 L157.5,491.0 L159.8,494.0 L162.2,496.8 L164.7,499.6 L167.3,502.3 L170.0,504.8 L172.7,507.3 L175.6,509.7 L178.4,512.1 L181.4,514.4 L184.4,516.6 L187.4,518.8 L190.5,520.9 L193.6,523.0 L196.7,525.0 L199.9,527.1 L203.1,529.1 L206.3,531.0 L209.6,532.9 L212.8,534.8 L216.1,536.6 L219.5,538.4 L222.8,540.1 L226.2,541.8 L229.6,543.4 L233.0,545.0 L236.4,546.6 L239.8,548.1 L243.3,549.5 L246.8,550.9 L250.3,552.2 L253.8,553.5 L257.3,554.8 L260.9,556.0 L264.4,557.2 L268.0,558.3 L271.6,559.4 L275.2,560.4 L278.8,561.4 L282.4,562.4 L286.0,563.3 L289.7,564.2 L293.3,565.1 L297.0,565.9 L300.7,566.7 L304.3,567.5 L308.0,568.2 L311.7,568.9 L315.4,569.5 L319.1,570.2 L322.8,570.8 L326.5,571.3 L330.2,571.9 L334.0,572.4 L337.7,572.8 L341.4,573.3 L345.2,573.7 L348.9,574.1 L352.6,574.4 L356.4,574.7 L360.1,575.0 L363.9,575.2 L367.6,575.5 L371.4,575.6 L375.1,575.8 L378.9,575.9 L382.6,576.0 L386.4,576.0 L390.1,576.0 L393.9,576.0 L397.6,576.0 L401.4,575.9 L405.1,575.8 L408.9,575.6 L412.6,575.5 L416.4,575.3 L420.1,575.0 L423.8,574.8 L427.6,574.5 L431.3,574.2 L435.1,573.9 L438.8,573.5 L442.5,573.1 L446.3,572.7 L450.0,572.3 L453.7,571.9 L457.4,571.4 L461.2,570.9 L464.9,570.4 L468.6,569.9 L472.3,569.4 L476.0,568.8 L479.8,568.2 L483.5,567.6 L487.2,567.0 L490.9,566.4 L494.6,565.7 L498.3,565.0 L501.9,564.2 L505.6,563.5 L509.3,562.7 L512.9,561.8 L516.6,560.9 L520.2,559.9 L523.8,558.9 L527.4,557.9 L531.0,556.8 L534.5,555.6 L538.1,554.4 L541.6,553.1 L545.1,551.7 L548.6,550.3 L552.0,548.9 L555.4,547.4 L558.8,545.8 L562.2,544.1 L565.5,542.5 L568.9,540.9 L572.3,539.2 L575.7,537.6 L579.0,536.0 L582.4,534.3 L585.8,532.6 L589.1,531.0 L592.4,529.2 L595.7,527.5 L599.0,525.6 L602.3,523.8 L605.5,521.8 L608.6,519.8 L611.8,517.8 L614.8,515.6 L617.9,513.4 L620.8,511.1 L623.7,508.7 L626.6,506.3 L629.3,503.7 L632.0,501.1 L634.6,498.4 L637.1,495.6 L639.6,492.8 L641.9,489.9 L644.2,486.8 L646.3,483.8 L648.4,480.6 L650.3,477.3 L652.1,474.0 L653.8,470.6 L655.4,467.2 L656.8,463.7 L658.1,460.1 L659.2,456.5 L660.2,452.9 L661.0,449.3 L661.7,445.6 L662.1,441.9 L662.5,438.2 L662.6,434.5 L662.5,430.7 L662.2,427.0 L661.8,423.3 L661.2,419.7 L660.4,416.0 L659.4,412.3 L658.4,408.7 L657.2,405.1 L656.0,401.5 L654.6,397.9 L653.3,394.4 L651.9,390.9 L650.4,387.4 L649.0,383.9 L647.5,380.5 L646.1,377.0 L644.6,373.6 L643.1,370.2 L641.5,366.8 L639.8,363.4 L638.1,360.1 L636.3,356.8 L634.5,353.6 L632.5,350.4 L630.5,347.3 L628.4,344.2 L626.2,341.1 L624.1,338.0 L621.8,335.0 L619.6,332.0 L617.3,329.0 L615.1,326.0 L612.8,322.9 L610.6,319.9 L608.3,316.9 L606.1,313.9 L603.9,310.8 L601.6,307.8 L599.4,304.8 L597.1,301.8 L594.9,298.8 L592.6,295.8 L590.3,292.8 L588.1,289.8 L585.7,286.9 L583.4,284.0 L581.0,281.1 L578.7,278.1 L576.3,275.3 L573.9,272.4 L571.5,269.5 L569.0,266.7 L566.6,263.8 L564.1,261.0 L561.7,258.2 L559.2,255.4 L556.7,252.6 L554.2,249.8 L551.7,247.0 L549.2,244.2 L546.7,241.4 L544.2,238.6 L541.7,235.8 L539.1,233.1 L536.6,230.3 L534.1,227.5 L531.6,224.7 L529.0,221.9 L526.5,219.2 L524.0,216.4 L521.5,213.6 L518.9,210.8 L516.4,208.0 L513.9,205.2 L511.4,202.4 L508.9,199.6 L506.4,196.8 L503.9,194.0 L501.4,191.2 L498.8,188.4 L496.3,185.6 L493.7,182.9 L491.2,180.1 L488.6,177.4 L486.0,174.7 L483.4,172.0 L480.7,169.4 L478.1,166.7 L475.4,164.1 L472.7,161.5 L470.0,159.0 L467.2,156.5 L464.4,154.0 L461.6,151.5 L458.7,149.1 L455.8,146.7 L452.9,144.4 L449.9,142.1 L446.9,139.9 L443.9,137.7 L440.8,135.6 L437.6,133.5 L434.4,131.5 L431.2,129.5 L427.9,127.6 L424.6,125.8 L421.2,124.1 L417.8,122.4 L414.3,120.9 L410.8,119.6 L407.2,118.5 L403.6,117.8 L400.0,117.6 Z" fill="none" stroke="#14008a" stroke-width="1.85" stroke-linejoin="round"/>
</g>
<rect x="5.5" y="5.1" width="789.6" height="751.9" fill="none" stroke="#000" stroke-width="1.6"/>
<g filter="url(#gs)">
<text x="15" y="787.7" font-size="22" letter-spacing="0.3">cd/klm</text>
<text x="686.8" y="783.4" font-size="20.5" font-family="Liberation Serif">η</text>
<text x="704.6" y="787.7" font-size="22">=</text>
<text x="725.3" y="787.7" font-size="22">100%</text>
</g>
</svg>
</body></html>
